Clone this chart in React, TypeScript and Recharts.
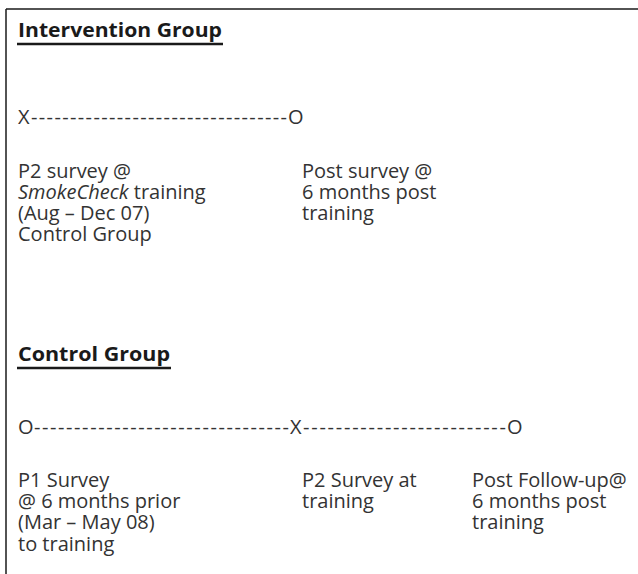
import React from 'react';
import { ScatterChart, Scatter, XAxis, YAxis, ReferenceLine } from 'recharts';

// ---- content ----
const groupTitles = ['Intervention Group', 'Control Group'];
const interventionTimeline = ['X', 'O'];
const interventionDashes = [33];
const interventionLabels = [
  ['P2 survey @', '*SmokeCheck* training', '(Aug – Dec 07)', 'Control Group'],
  ['Post survey @', '6 months post', 'training'],
];
const controlTimeline = ['O', 'X', 'O'];
const controlDashes = [32, 25];
const controlLabels = [
  ['P1 Survey', '@ 6 months prior', '(Mar – May 08)', 'to training'],
  ['P2 Survey at', 'training'],
  ['Post Follow-up@', '6 months post', 'training'],
];

// ---- layout ----
const W = 638;
const H = 574;
const FONT = "'Open Sans', 'Noto Sans', sans-serif";
const FS = 20;
const LINE_H = 21.2;
const TEXT_COLOR = '#333333';
const TITLE_COLOR = '#1a1a1a';
const titleX = 18;
const titleBaselines = [37, 361];
const titleWidths = [204, 152];
const underlineOffset = 7;
const timelineBaselines = [124, 434];
const interventionMarkX = [18, 288];
const controlMarkX = [18, 290, 507];
const glyphWidth: Record<string, number> = { X: 13, O: 16 };
const interventionLabelX = [18, 302];
const controlLabelX = [18, 302, 472];
const labelBaselines = [177.5, 487];

const titleData = groupTitles.map((t, i) => ({ x: titleX, y: titleBaselines[i], text: t, w: titleWidths[i] }));

const markData = [
  ...interventionTimeline.map((g, i) => ({ x: interventionMarkX[i], y: timelineBaselines[0], text: g })),
  ...controlTimeline.map((g, i) => ({ x: controlMarkX[i], y: timelineBaselines[1], text: g })),
];

const makeDashes = (counts: number[], marks: string[], xs: number[], y: number) =>
  counts.map((n, i) => {
    const start = xs[i] + glyphWidth[marks[i]];
    return { x: start, y, n, w: xs[i + 1] - start - 1 };
  });

const dashData = [
  ...makeDashes(interventionDashes, interventionTimeline, interventionMarkX, timelineBaselines[0]),
  ...makeDashes(controlDashes, controlTimeline, controlMarkX, timelineBaselines[1]),
];

const labelData = [
  ...interventionLabels.map((lines, i) => ({ x: interventionLabelX[i], y: labelBaselines[0], lines })),
  ...controlLabels.map((lines, i) => ({ x: controlLabelX[i], y: labelBaselines[1], lines })),
];

const renderRich = (s: string) =>
  s.split('*').map((part, k) => (
    <tspan key={k} fontStyle={k % 2 === 1 ? 'italic' : 'normal'}>
      {part}
    </tspan>
  ));

const TitleShape = (props: any) => {
  const { cx, cy, payload } = props;
  return (
    <g>
      <text x={cx} y={cy} fontFamily={FONT} fontSize={FS} fontWeight={700} fill={TITLE_COLOR}
        textLength={payload.w} lengthAdjust="spacingAndGlyphs">
        {payload.text}
      </text>
      <line x1={cx - 1} x2={cx + payload.w + 1} y1={cy + underlineOffset} y2={cy + underlineOffset}
        stroke={TITLE_COLOR} strokeWidth={2.5} />
    </g>
  );
};

const MarkShape = (props: any) => {
  const { cx, cy, payload } = props;
  return (
    <text x={cx} y={cy} fontFamily={FONT} fontSize={FS} fill={TEXT_COLOR}>
      {payload.text}
    </text>
  );
};

const DashShape = (props: any) => {
  const { cx, cy, payload } = props;
  return (
    <text x={cx} y={cy} fontFamily={FONT} fontSize={FS} fill={TEXT_COLOR}
      textLength={payload.w} lengthAdjust="spacing">
      {'-'.repeat(payload.n)}
    </text>
  );
};

const LabelShape = (props: any) => {
  const { cx, cy, payload } = props;
  return (
    <text fontFamily={FONT} fontSize={FS} fill={TEXT_COLOR}>
      {payload.lines.map((ln: string, i: number) => (
        <tspan key={i} x={cx} y={cy + i * LINE_H}>
          {renderRich(ln)}
        </tspan>
      ))}
    </text>
  );
};

export default function App() {
  return (
    <div style={{ position: 'absolute', left: 0, top: 0, width: W, height: H, background: '#fff' }}>
      <ScatterChart width={W} height={H} margin={{ top: 0, right: 0, bottom: 0, left: 0 }}>
        <XAxis type="number" dataKey="x" domain={[0, W]} hide allowDataOverflow />
        <YAxis type="number" dataKey="y" domain={[0, H]} reversed hide allowDataOverflow />
        <ReferenceLine segment={[{ x: 6, y: 9 }, { x: W, y: 9 }]} stroke="#1a1a1a" strokeWidth={1.5} ifOverflow="visible" />
        <ReferenceLine segment={[{ x: 6, y: 9 }, { x: 6, y: H }]} stroke="#1a1a1a" strokeWidth={1.5} ifOverflow="visible" />
        <Scatter data={titleData} shape={TitleShape} isAnimationActive={false} />
        <Scatter data={markData} shape={MarkShape} isAnimationActive={false} />
        <Scatter data={dashData} shape={DashShape} isAnimationActive={false} />
        <Scatter data={labelData} shape={LabelShape} isAnimationActive={false} />
      </ScatterChart>
    </div>
  );
}
